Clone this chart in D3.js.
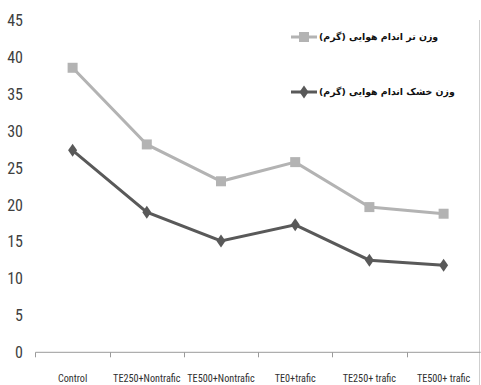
<!DOCTYPE html>
<html>
<head>
<meta charset="utf-8">
<script src="https://cdn.jsdelivr.net/npm/d3@7"></script>
<style>
  html, body { margin: 0; padding: 0; background: #fff; }
  svg { display: block; }
</style>
</head>
<body>
<svg id="chart" width="481" height="385"></svg>
<script>
// Treatments along the horizontal axis
const categories = ["Control", "TE250+Nontrafic", "TE500+Nontrafic", "TE0+trafic", "TE250+ trafic", "TE500+ trafic"];
// Shoot fresh weight (g)
const freshWeight = [38.6, 28.2, 23.2, 25.8, 19.7, 18.8];
// Shoot dry weight (g)
const dryWeight = [27.4, 19.0, 15.1, 17.3, 12.5, 11.8];
const yTicks = [0, 5, 10, 15, 20, 25, 30, 35, 40, 45];
const seriesNames = ["وزن تر اندام هوایی (گرم)", "وزن خشک اندام هوایی (گرم)"];

const svg = d3.select("#chart");
const narrow = "'Liberation Sans Narrow', 'Arial Narrow', 'Roboto Condensed', sans-serif";

const x = d3.scaleBand().domain(categories).range([35.5, 480.7]);
const y = d3.scaleLinear().domain([0, 45]).range([352.3, 20.6]);

// right plot border
svg.append("line")
  .attr("x1", 479.5).attr("x2", 479.5)
  .attr("y1", 20).attr("y2", 385)
  .attr("stroke", "#cfcfcf").attr("stroke-width", 1);

// y axis labels only (no axis line)
const yAxis = d3.axisLeft(y).tickValues(yTicks).tickSize(0).tickPadding(0);
const gy = svg.append("g").attr("transform", "translate(23,0)").call(yAxis);
gy.select(".domain").remove();
gy.selectAll("text")
  .attr("font-family", narrow)
  .attr("font-size", 16)
  .attr("fill", "#404040");

// x axis with ticks between categories
const gx = svg.append("g").attr("transform", `translate(0,${y(0)})`);
gx.append("line")
  .attr("x1", x.range()[0]).attr("x2", x.range()[1])
  .attr("stroke", "#9a9a9a").attr("stroke-width", 1);
const bounds = categories.map(c => x(c)).concat([x.range()[1]]);
gx.selectAll(".tk").data(bounds).join("line")
  .attr("class", "tk")
  .attr("x1", d => Math.round(d) + 0.5).attr("x2", d => Math.round(d) + 0.5)
  .attr("y1", 0).attr("y2", 5)
  .attr("stroke", "#9a9a9a").attr("stroke-width", 1);
gx.selectAll(".lbl").data(categories).join("text")
  .attr("class", "lbl")
  .attr("x", d => x(d) + x.bandwidth() / 2)
  .attr("y", 30)
  .attr("text-anchor", "middle")
  .attr("font-family", narrow)
  .attr("font-size", 10.2)
  .attr("fill", "#303030")
  .text(d => d);

const cx = d => x(d) + x.bandwidth() / 2;
const line = d3.line().x(d => cx(d.c)).y(d => y(d.v));

const series = [
  { values: freshWeight, color: "#b3b3b3", symbol: "square" },
  { values: dryWeight, color: "#595959", symbol: "diamond" }
];

function drawMarker(g, sym, color) {
  if (sym === "square") {
    g.append("rect").attr("x", -5).attr("y", -5).attr("width", 10).attr("height", 10).attr("fill", color);
  } else {
    g.append("path").attr("d", "M0,-6.5L4.5,0L0,6.5L-4.5,0Z").attr("fill", color);
  }
}

series.forEach(s => {
  const pts = categories.map((c, i) => ({ c, v: s.values[i] }));
  svg.append("path")
    .datum(pts)
    .attr("d", line)
    .attr("fill", "none")
    .attr("stroke", s.color)
    .attr("stroke-width", 3);
  pts.forEach(p => {
    const g = svg.append("g").attr("transform", `translate(${cx(p.c)},${y(p.v)})`);
    drawMarker(g, s.symbol, s.color);
  });
});

// legend
const legendY = [37, 92];
series.forEach((s, i) => {
  const g = svg.append("g").attr("transform", `translate(0,${legendY[i]})`);
  g.append("line").attr("x1", 291).attr("x2", 317).attr("y1", 0).attr("y2", 0)
    .attr("stroke", s.color).attr("stroke-width", 3);
  const m = g.append("g").attr("transform", "translate(304,0)");
  drawMarker(m, s.symbol, s.color);
  g.append("text")
    .attr("x", 319)
    .attr("y", 0)
    .attr("dy", "0.35em")
    .attr("direction", "rtl")
    .attr("text-anchor", "end")
    .attr("font-family", "'DejaVu Sans', sans-serif")
    .attr("font-weight", "bold")
    .attr("font-size", 9.4)
    .attr("fill", "#111")
    .text(seriesNames[i]);
});
</script>
</body>
</html>
